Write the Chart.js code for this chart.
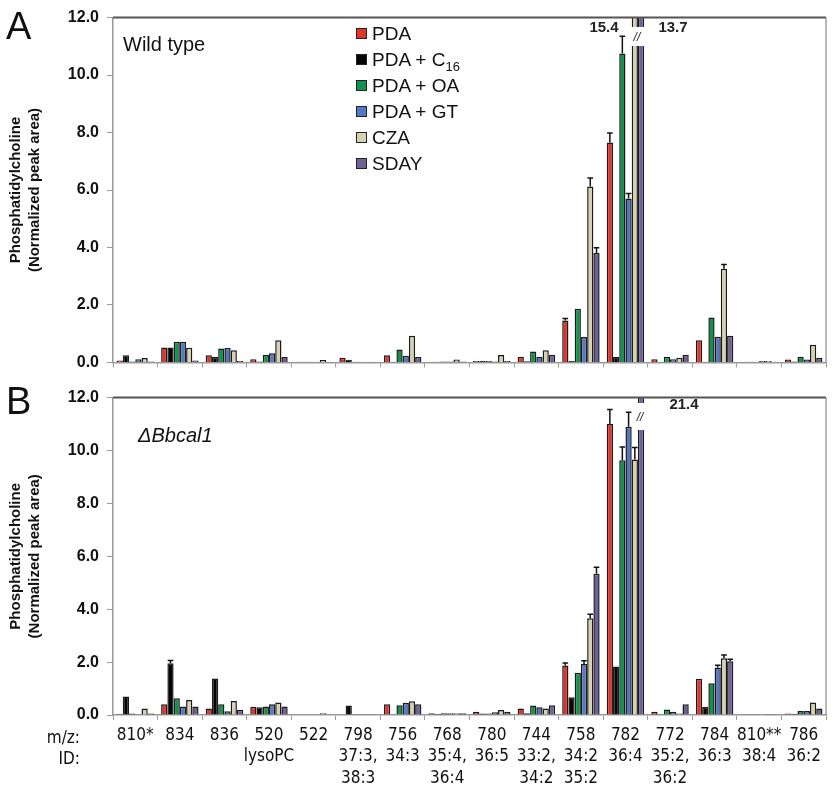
<!DOCTYPE html>
<html>
<head>
<meta charset="utf-8">
<script src="https://cdn.jsdelivr.net/npm/chart.js@4.4.1/dist/chart.umd.min.js"></script>
<style>
  body { margin: 0; background: #fff; width: 834px; height: 794px; position: relative; overflow: hidden; font-family: "Liberation Sans", Arial, sans-serif; }
  canvas { position: absolute; left: 0; }
  #chartA { top: 0; }
  #chartB { top: 380px; }
  .panel { position: absolute; font-size: 38px; color: #111; }
  .note { position: absolute; font-size: 20px; color: #111; }
  .legend { position: absolute; left: 356px; top: 21px; font-size: 19px; color: #111; }
  .legend div { height: 26px; line-height: 26px; white-space: nowrap; }
  .legend span.box { display: inline-block; width: 9px; height: 9px; border: 1px solid #222; margin-right: 5px; vertical-align: 1px; }
  .rowlab { position: absolute; font-family: "Liberation Sans Narrow", "DejaVu Sans Condensed", Arial, sans-serif; font-size: 17px; color: #111; text-align: right; width: 60px; left: 20px; }
</style>
</head>
<body>
<canvas id="chartA" width="834" height="380"></canvas>
<canvas id="chartB" width="834" height="414"></canvas>

<div class="panel" style="left:6px; top:5px;">A</div>
<div class="panel" style="left:6px; top:380px;">B</div>
<div class="note" style="left:123px; top:33px;">Wild type</div>
<div class="note" style="left:138px; top:424px; font-style:italic;">ΔBbcal1</div>

<div class="legend" id="legend"></div>

<div class="rowlab" style="top:727px;">m/z:</div>
<div class="rowlab" style="top:748px;">ID:</div>

<script>
// Categories (m/z and ID lines)
const categories = [
    ['810*'], ['834'], ['836'], ['520', 'lysoPC'], ['522'], ['798', '37:3,', '38:3'],
    ['756', '34:3'], ['768', '35:4,', '36:4'], ['780', '36:5'], ['744', '33:2,', '34:2'],
    ['758', '34:2', '35:2'], ['782', '36:4'], ['772', '35:2,', '36:2'], ['784', '36:3'],
    ['810**', '38:4'], ['786', '36:2']
];

const seriesNames = ['PDA', 'PDA + C16', 'PDA + OA', 'PDA + GT', 'CZA', 'SDAY'];
const seriesColors = ['#e2342b', '#050505', '#13924a', '#5479c4', '#d6d1b1', '#6f6095'];

const yTicks = [0, 2, 4, 6, 8, 10, 12];

// Panel A - Wild type
const aPDA  = [0.07, 0.52, 0.25, 0.11, 0.02, 0.16, 0.25, 0.02, 0.05, 0.20, 1.46, 7.65, 0.11, 0.77, 0.02, 0.10];
const aC16  = [0.25, 0.52, 0.19, 0.03, 0.02, 0.09, 0.02, 0.02, 0.05, 0.04, 0.05, 0.20, 0.02, 0.02, 0.02, 0.03];
const aOA   = [0.03, 0.72, 0.48, 0.26, 0.02, 0.02, 0.45, 0.03, 0.05, 0.38, 1.87, 10.75, 0.20, 1.56, 0.02, 0.20];
const aGT   = [0.11, 0.72, 0.50, 0.32, 0.02, 0.02, 0.23, 0.03, 0.03, 0.20, 0.88, 5.70, 0.11, 0.89, 0.05, 0.10];
const aCZA  = [0.15, 0.51, 0.42, 0.77, 0.08, 0.02, 0.93, 0.10, 0.26, 0.42, 6.12, 15.4, 0.16, 3.26, 0.05, 0.61];
const aSDAY = [0.03, 0.07, 0.05, 0.19, 0.02, 0.02, 0.19, 0.03, 0.05, 0.27, 3.81, 13.7, 0.27, 0.93, 0.02, 0.16];

const aPDAErr  = [0, 0, 0, 0, 0, 0, 0, 0, 0, 0, 0.07, 0.33, 0, 0, 0, 0];
const aC16Err  = [0, 0, 0, 0, 0, 0, 0, 0, 0, 0, 0, 0, 0, 0, 0, 0];
const aOAErr   = [0, 0, 0, 0, 0, 0, 0, 0, 0, 0, 0, 0.6, 0, 0, 0, 0];
const aGTErr   = [0, 0, 0, 0, 0, 0, 0, 0, 0, 0, 0, 0.18, 0, 0, 0, 0];
const aCZAErr  = [0, 0, 0, 0, 0, 0, 0, 0, 0, 0, 0.30, 0, 0, 0.15, 0, 0];
const aSDAYErr = [0, 0, 0, 0, 0, 0, 0, 0, 0, 0, 0.18, 0, 0, 0, 0, 0];

// Panel B - ΔBbcal1
const bPDA  = [0.04, 0.41, 0.25, 0.31, 0.02, 0.02, 0.41, 0.07, 0.12, 0.25, 1.87, 11.0, 0.12, 1.37, 0.01, 0.06];
const bC16  = [0.70, 1.96, 1.38, 0.29, 0.02, 0.36, 0.02, 0.04, 0.06, 0.07, 0.67, 1.83, 0.03, 0.31, 0.01, 0.05];
const bOA   = [0.06, 0.63, 0.41, 0.32, 0.02, 0.01, 0.37, 0.07, 0.06, 0.36, 1.60, 9.63, 0.21, 1.20, 0.01, 0.15];
const bGT   = [0.03, 0.32, 0.14, 0.41, 0.02, 0.01, 0.46, 0.07, 0.10, 0.29, 1.93, 10.9, 0.12, 1.80, 0.02, 0.15];
const bCZA  = [0.25, 0.57, 0.53, 0.47, 0.07, 0.01, 0.52, 0.07, 0.19, 0.25, 3.66, 9.66, 0.06, 2.15, 0.04, 0.47];
const bSDAY = [0.06, 0.32, 0.20, 0.32, 0.02, 0.01, 0.41, 0.07, 0.12, 0.37, 5.34, 21.4, 0.41, 2.03, 0.01, 0.25];

const bPDAErr  = [0, 0, 0, 0, 0, 0, 0, 0, 0, 0, 0.10, 0.55, 0, 0, 0, 0];
const bC16Err  = [0, 0.10, 0, 0, 0, 0, 0, 0, 0, 0, 0, 0, 0, 0, 0, 0];
const bOAErr   = [0, 0, 0, 0, 0, 0, 0, 0, 0, 0, 0, 0.50, 0, 0, 0, 0];
const bGTErr   = [0, 0, 0, 0, 0, 0, 0, 0, 0, 0, 0.12, 0.55, 0, 0.08, 0, 0];
const bCZAErr  = [0, 0, 0, 0, 0, 0, 0, 0, 0, 0, 0.15, 0.45, 0, 0.12, 0, 0];
const bSDAYErr = [0, 0, 0, 0, 0, 0, 0, 0, 0, 0, 0.25, 0, 0, 0.08, 0, 0];

// Legend
const legendEl = document.getElementById('legend');
seriesNames.forEach((name, i) => {
    const row = document.createElement('div');
    const label = name === 'PDA + C16' ? 'PDA + C<sub style="font-size:13px">16</sub>' : name;
    row.innerHTML = `<span class="box" style="background:${seriesColors[i]}"></span>${label}`;
    legendEl.appendChild(row);
});

// Error bars drawn above each bar
const errorBarPlugin = {
    id: 'errorBars',
    afterDatasetsDraw(chart) {
        const ctx = chart.ctx;
        const yScale = chart.scales.y;
        ctx.save();
        ctx.strokeStyle = '#111';
        ctx.lineWidth = 1.5;
        chart.data.datasets.forEach((ds, di) => {
            const meta = chart.getDatasetMeta(di);
            meta.data.forEach((bar, i) => {
                const err = ds.errors[i];
                if (!err) return;
                const yTop = yScale.getPixelForValue(ds.data[i] + err);
                const half = bar.width * 0.45;
                ctx.beginPath();
                ctx.moveTo(bar.x, bar.y);
                ctx.lineTo(bar.x, yTop);
                ctx.moveTo(bar.x - half, yTop);
                ctx.lineTo(bar.x + half, yTop);
                ctx.stroke();
            });
        });
        ctx.restore();
    }
};

// Top / right frame
const framePlugin = {
    id: 'frame',
    afterDraw(chart) {
        const {ctx, chartArea} = chart;
        ctx.save();
        ctx.strokeStyle = '#555';
        ctx.lineWidth = 2;
        ctx.beginPath();
        ctx.moveTo(chartArea.left, chartArea.top);
        ctx.lineTo(chartArea.right, chartArea.top);
        ctx.stroke();
        ctx.strokeStyle = '#888';
        ctx.lineWidth = 1.2;
        ctx.beginPath();
        ctx.moveTo(chartArea.right, chartArea.top);
        ctx.lineTo(chartArea.right, chartArea.bottom);
        ctx.stroke();
        ctx.restore();
    }
};

// Axis break for bars that run off the scale
function breakPlugin(cat, sets, gapTop, gapBottom, labels) {
    return {
        id: 'axisBreak',
        afterDatasetsDraw(chart) {
            const ctx = chart.ctx;
            const bars = sets.map(s => chart.getDatasetMeta(s).data[cat]);
            const left = Math.min(...bars.map(b => b.x - b.width / 2)) - 1;
            const right = Math.max(...bars.map(b => b.x + b.width / 2)) + 1;
            ctx.save();
            ctx.fillStyle = '#fff';
            ctx.fillRect(left, gapTop, right - left, gapBottom - gapTop);
            ctx.fillStyle = '#222';
            ctx.font = 'italic 12px "Liberation Sans", Arial';
            ctx.textAlign = 'center';
            ctx.textBaseline = 'middle';
            ctx.fillText('//', (left + right) / 2 - 1, (gapTop + gapBottom) / 2 + 1);
            ctx.font = 'bold 15px "Liberation Sans", Arial';
            labels.forEach(l => ctx.fillText(l.text, l.x, l.y));
            ctx.restore();
        }
    };
}

function makeDatasets(values, errors) {
    return values.map((v, i) => ({
        label: seriesNames[i],
        data: v,
        errors: errors[i],
        backgroundColor: seriesColors[i],
        borderColor: '#1b1b1b',
        borderWidth: 1.5,
        categoryPercentage: 0.84,
        barPercentage: 1.0
    }));
}

function makeOptions(showLabels, chartHeight, bottom) {
    return {
        responsive: false,
        animation: false,
        layout: { padding: { top: showLabels ? 13 : 15, right: 8, left: 0, bottom: 0 } },
        plugins: { legend: { display: false }, tooltip: { enabled: false } },
        scales: {
            x: {
                offset: true,
                grid: { offset: true, drawOnChartArea: false, tickLength: 5, color: '#999' },
                border: { color: '#999', width: 1.5 },
                ticks: {
                    display: showLabels,
                    autoSkip: false,
                    maxRotation: 0,
                    padding: 5,
                    color: '#111',
                    font: { family: '"Liberation Sans Narrow", "DejaVu Sans Condensed", Arial', size: 17, lineHeight: 1.25 }
                },
                afterFit: scale => { scale.height = chartHeight - bottom; }
            },
            y: {
                min: 0,
                max: 12,
                afterBuildTicks: scale => { scale.ticks = yTicks.map(v => ({ value: v })); },
                grid: { drawOnChartArea: false, tickLength: 6, color: '#999' },
                border: { color: '#999', width: 1.5 },
                ticks: {
                    padding: 8,
                    color: '#111',
                    font: { family: '"Liberation Sans", Arial', size: 16, weight: 'bold' },
                    callback: v => v.toFixed(1)
                },
                title: {
                    display: true,
                    text: ['Phosphatidylcholine', '(Normalized peak area)'],
                    color: '#111',
                    padding: { top: 6, bottom: 0 },
                    font: { family: '"Liberation Sans", Arial', size: 15, weight: 'bold', lineHeight: 1.3 }
                },
                afterFit: scale => { scale.width = 113; }
            }
        }
    };
}

// Panel A chart
new Chart(document.getElementById('chartA'), {
    type: 'bar',
    data: {
        labels: categories,
        datasets: makeDatasets([aPDA, aC16, aOA, aGT, aCZA, aSDAY],
            [aPDAErr, aC16Err, aOAErr, aGTErr, aCZAErr, aSDAYErr])
    },
    options: makeOptions(false, 380, 368),
    plugins: [errorBarPlugin, framePlugin,
        breakPlugin(11, [4, 5], 27, 46, [{ text: '15.4', x: 604, y: 28 }, { text: '13.7', x: 673, y: 28 }])]
});

// Panel B chart
new Chart(document.getElementById('chartB'), {
    type: 'bar',
    data: {
        labels: categories,
        datasets: makeDatasets([bPDA, bC16, bOA, bGT, bCZA, bSDAY],
            [bPDAErr, bC16Err, bOAErr, bGTErr, bCZAErr, bSDAYErr])
    },
    options: makeOptions(true, 414, 335),
    plugins: [errorBarPlugin, framePlugin,
        breakPlugin(11, [5], 23, 50, [{ text: '21.4', x: 684, y: 25 }])]
});
</script>
</body>
</html>
